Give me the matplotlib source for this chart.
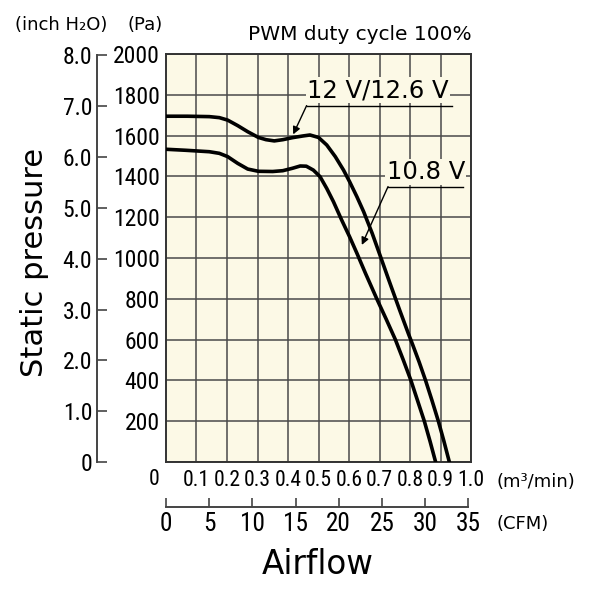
import os
import matplotlib
matplotlib.use("Agg")
import matplotlib.pyplot as plt
from matplotlib import font_manager as fm
from matplotlib.textpath import TextToPath

# Data (airflow in m3/min, static pressure in Pa)
q_12v = [0, 0.07, 0.142, 0.175, 0.202, 0.235, 0.268, 0.303, 0.328, 0.355, 0.383,
         0.415, 0.448, 0.472, 0.50, 0.527, 0.555, 0.582, 0.602, 0.626, 0.648,
         0.676, 0.703, 0.731, 0.766, 0.795, 0.808, 0.83, 0.851, 0.872, 0.893,
         0.911, 0.929]
p_12v = [1695, 1695, 1693, 1688, 1676, 1649, 1619, 1591, 1580, 1574, 1580,
         1590, 1598, 1603, 1591, 1554, 1497, 1431, 1374, 1300, 1227,
         1121, 1008, 890, 745, 628, 578, 490, 400, 302, 200,
         103, 0]

q_108v = [0, 0.065, 0.142, 0.175, 0.202, 0.235, 0.268, 0.303, 0.35, 0.383, 0.415,
          0.44, 0.46, 0.483, 0.505, 0.527, 0.549, 0.576, 0.602, 0.626, 0.654,
          0.692, 0.722, 0.752, 0.778, 0.803, 0.825, 0.847, 0.866, 0.884]
p_108v = [1533, 1528, 1521, 1513, 1497, 1464, 1436, 1425, 1424, 1428, 1440,
          1451, 1450, 1431, 1399, 1341, 1276, 1186, 1104, 1023, 925,
          797, 700, 600, 500, 400, 300, 200, 100, 0]

m3_ticks = [0.1, 0.2, 0.3, 0.4, 0.5, 0.6, 0.7, 0.8, 0.9, 1.0]
cfm_ticks = [0, 5, 10, 15, 20, 25, 30, 35]
pa_ticks = [0, 200, 400, 600, 800, 1000, 1200, 1400, 1600, 1800, 2000]
inch_ticks = [0, 1, 2, 3, 4, 5, 6, 7, 8]
inch_labels = ['0', '1.0', '2.0', '3.0', '4.0', '5.0', '6.0', '7.0', '8.0']

PA_PER_INCH = 249.089
M3_PER_CFM = 0.0283168

BG = '#fcf9e6'
GRID = '#4a4a4a'


def find_face(order):
    found = {}
    for f in fm.fontManager.ttflist:
        base = os.path.basename(f.fname).lower()
        for key in order:
            if base.startswith(key):
                found.setdefault(key, f.fname)
    for key in order:
        if key in found:
            return found[key]
    return None


# condensed sans faces for the numbers
NARROW = ['liberationsansnarrow-regular', 'notosans-condensed.',
          'robotocondensed-regular', 'dejavusanscondensed.']
XNARROW = ['notosans-extracondensed.', 'liberationsansnarrow-regular',
           'notosans-condensed.', 'robotocondensed-regular',
           'dejavusanscondensed.']
_ttp = TextToPath()


def num_font(path, sample, max_w_px, max_size):
    if path:
        prop = fm.FontProperties(fname=path, size=100)
    else:
        prop = fm.FontProperties(family='Liberation Sans', size=100)
    w, _, _ = _ttp.get_text_width_height_descent(sample, prop, False)
    size = min(max_size, max_w_px * 0.72 / (w / 100))
    prop.set_size(size)
    return prop


f_x = num_font(find_face(XNARROW), '0.5', 27, 16)
f_y = num_font(find_face(NARROW), '2000', 51, 17)
f_cfm = num_font(find_face(NARROW), '35', 25, 19)

fig = plt.figure(figsize=(5.93, 5.90), dpi=100)
ax = fig.add_axes([166 / 593, 128 / 590, 305 / 593, 408 / 590])
ax.set_facecolor(BG)
ax.set_xlim(0, 1.0)
ax.set_ylim(0, 2000)
ax.set_axisbelow(True)
ax.grid(True, color=GRID, lw=1.1)
for s in ax.spines.values():
    s.set_color('#333333')
    s.set_linewidth(1.4)

ax.plot(q_12v, p_12v, color='black', lw=2.6, solid_joinstyle='round', zorder=4)
ax.plot(q_108v, p_108v, color='black', lw=2.6, solid_joinstyle='round', zorder=4)

# m3/min axis (tick labels only)
ax.set_xticks(m3_ticks, labels=[f'{v:.1f}' for v in m3_ticks], fontproperties=f_x)
ax.tick_params(axis='x', length=0, pad=6.0)
ax.text(-0.04, -0.044, '0', transform=ax.transAxes, ha='center', va='center',
        fontproperties=f_x)
ax.text(1.085, -0.049, '(m³/min)', transform=ax.transAxes, ha='left',
        va='center', fontsize=13)

# Pa axis (labels only)
ax.set_yticks(pa_ticks, labels=[''] + [str(v) for v in pa_ticks[1:]],
              fontproperties=f_y)
ax.tick_params(axis='y', length=0, pad=4.5)

# inch H2O axis
secy = ax.secondary_yaxis(-0.227, functions=(lambda p: p / PA_PER_INCH,
                                             lambda i: i * PA_PER_INCH))
secy.set_yticks(inch_ticks, labels=inch_labels, fontproperties=f_y)
secy.tick_params(axis='y', direction='in', length=7, width=1.2, pad=3.2,
                 color='#444444')
secy.spines['left'].set_bounds(0, 8)
secy.spines['left'].set_color('#444444')
secy.spines['left'].set_linewidth(1.4)

# CFM axis
secx = ax.secondary_xaxis(-0.1096, functions=(lambda q: q / M3_PER_CFM,
                                              lambda c: c * M3_PER_CFM))
secx.set_xticks(cfm_ticks, labels=[str(v) for v in cfm_ticks],
                fontproperties=f_cfm)
secx.tick_params(axis='x', direction='in', length=6.5, width=1.2, pad=3.5,
                 color='#444444')
secx.spines['bottom'].set_bounds(0, 35)
secx.spines['bottom'].set_color('#444444')
secx.spines['bottom'].set_linewidth(1.4)
ax.text(1.085, -0.152, '(CFM)', transform=ax.transAxes, ha='left',
        va='center', fontsize=13)

# annotations
ax.text(0.695, 1823, '12 V/12.6 V', ha='center', va='center', fontsize=17.5,
        bbox=dict(boxstyle='square,pad=0.05', fc=BG, ec='none'), zorder=3)
ax.plot([0.461, 0.937], [1747, 1747], color='black', lw=1.0, zorder=5)
ax.annotate('', xy=(0.417, 1606), xytext=(0.461, 1747),
            arrowprops=dict(arrowstyle='-|>', lw=1.0, color='black',
                            mutation_scale=11, shrinkA=0, shrinkB=0), zorder=5)

ax.text(0.852, 1422, '10.8 V', ha='center', va='center', fontsize=17.5,
        bbox=dict(boxstyle='square,pad=0.05', fc=BG, ec='none'), zorder=3)
ax.plot([0.728, 0.974], [1350, 1350], color='black', lw=1.0, zorder=5)
ax.annotate('', xy=(0.642, 1064), xytext=(0.728, 1350),
            arrowprops=dict(arrowstyle='-|>', lw=1.0, color='black',
                            mutation_scale=11, shrinkA=0, shrinkB=0), zorder=5)

# titles and unit labels
fig.text(360 / 593, 1 - 35 / 590, 'PWM duty cycle 100%', ha='center',
         va='center', fontsize=14.5)
fig.text(61 / 593, 1 - 25 / 590, '(inch H₂O)', ha='center', va='center',
         fontsize=13)
fig.text(145 / 593, 1 - 25 / 590, '(Pa)', ha='center', va='center',
         fontsize=13)
fig.text(35 / 593, 1 - 262 / 590, 'Static pressure', rotation=90,
         ha='center', va='center', fontsize=22)
fig.text(318 / 593, 1 - 565 / 590, 'Airflow', ha='center', va='center',
         fontsize=23.5)

fig.savefig('out.png', dpi=100, facecolor='white')
